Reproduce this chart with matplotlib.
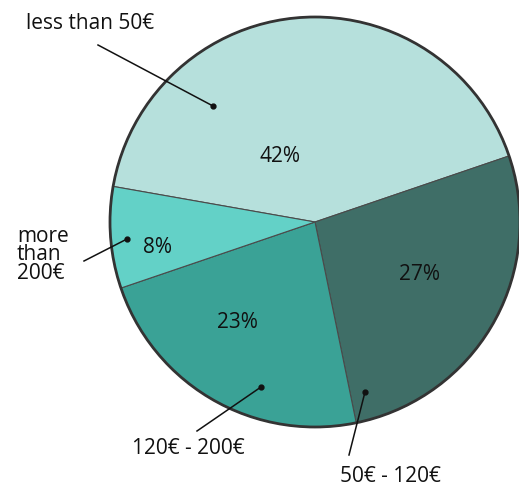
import matplotlib
matplotlib.use("Agg")
import matplotlib.pyplot as plt
from matplotlib.patches import Circle

# ---- data ----
categories = ["less than 50€", "50€ - 120€", "120€ - 200€", "more\nthan\n200€"]
shares = [42, 27, 23, 8]
pct_labels = ["42%", "27%", "23%", "8%"]
colors = ["#b6e0dc", "#3f6e67", "#3aa296", "#63d1c7"]

plt.rcParams['font.family'] = ['Open Sans', 'DejaVu Sans']

W, H = 519, 486
fig = plt.figure(figsize=(W / 100, H / 100), dpi=100)
ax = fig.add_axes([0, 0, 1, 1])

cx, cy, R = 315, H - 222, 205

wedges, _ = ax.pie(shares, colors=colors, startangle=170, counterclock=False,
                   center=(cx, cy), radius=R, frame=True,
                   wedgeprops=dict(edgecolor="#4a4a4a", linewidth=0.8))
ax.set_xlim(0, W)
ax.set_ylim(0, H)
ax.set_aspect('equal')
ax.axis('off')
ax.add_patch(Circle((cx, cy), R, fill=False, edgecolor="#333333", linewidth=2, zorder=5))

FS = 15

# percent labels (pixel positions from reference)
pct_pos = [(280, 157), (420, 275), (237, 322), (158, 248)]
for t, (px, py) in zip(pct_labels, pct_pos):
    ax.text(px, H - py, t, ha='center', va='center', fontsize=FS, color="#111111", zorder=6)

# callouts per category: (text position, line start, dot position, alignment)
callouts = [
    ((90, 24), (98, 45), (213, 106), 'center'),
    ((390, 476), (349, 455), (365, 392), 'center'),
    ((188, 448), (197, 431), (261, 387), 'center'),
    ((17, 255), (84, 261), (127, 239), 'left'),
]
for cat, (tp, ls, dp, ha) in zip(categories, callouts):
    ax.text(tp[0], H - tp[1], cat, ha=ha, va='center', fontsize=FS, color="#111111",
            linespacing=0.85, zorder=6)
    ax.plot([ls[0], dp[0]], [H - ls[1], H - dp[1]], color="#111111", lw=1.1, zorder=6)
    ax.plot(dp[0], H - dp[1], 'o', color="#111111", ms=3.5, zorder=7)

fig.savefig("out.png", dpi=100)
